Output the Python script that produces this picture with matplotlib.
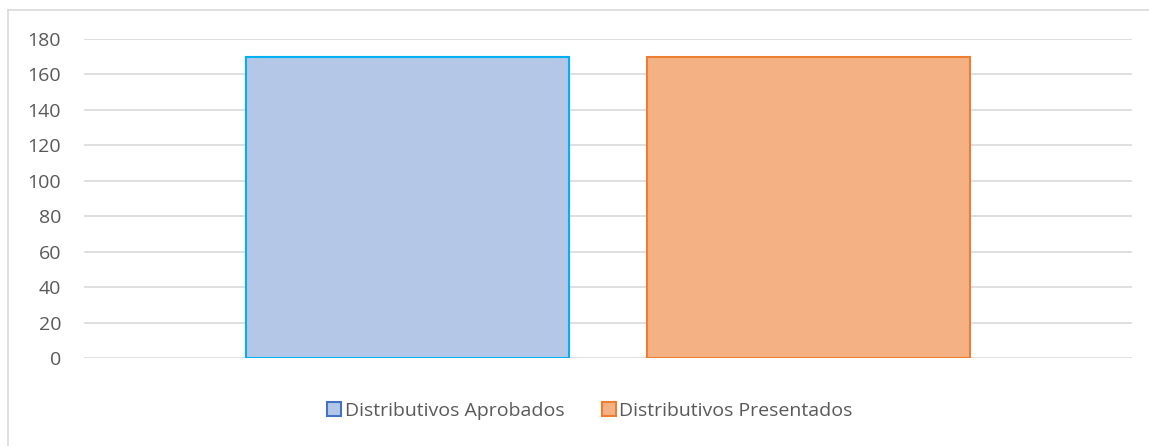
import matplotlib.pyplot as plt
from matplotlib.patches import Patch
from matplotlib.lines import Line2D

series = ['Distributivos Aprobados', 'Distributivos Presentados']
values = [170, 170]
face_colors = ['#B4C7E7', '#F4B183']
edge_colors = ['#00B0F0', '#ED7D31']
legend_edges = ['#4472C4', '#ED7D31']
yticks = [0, 20, 40, 60, 80, 100, 120, 140, 160, 180]

plt.rcParams['font.family'] = ['Open Sans', 'DejaVu Sans']

fig = plt.figure(figsize=(11.49, 4.46), dpi=100)
W, H = 1149, 446
ax = fig.add_axes([84 / W, 1 - 358 / H, (1132 - 84) / W, (358 - 39) / H])

offsets = [-0.191, 0.191]
for off, v, fc, ec in zip(offsets, values, face_colors, edge_colors):
    ax.bar(off, v, width=0.308, color=fc, edgecolor=ec, linewidth=1.5, zorder=3)

ax.set_xlim(-0.5, 0.5)
ax.set_ylim(0, 180)
ax.set_yticks(yticks)
ax.set_xticks([])
ax.grid(axis='y', color='#D9D9D9', linewidth=1.2, zorder=0)
for s in ax.spines.values():
    s.set_visible(False)
ax.tick_params(axis='y', length=0, pad=16.5, labelsize=14, labelcolor='#595959')

# outer chart border (top and left visible)
fig.add_artist(Line2D([8 / W, 1], [1 - 10 / H, 1 - 10 / H], color='#D9D9D9', linewidth=1.2))
fig.add_artist(Line2D([8 / W, 8 / W], [0, 1 - 10 / H], color='#D9D9D9', linewidth=1.2))

handles = [Patch(facecolor=fc, edgecolor=ec, linewidth=1.5) for fc, ec in zip(face_colors, legend_edges)]
fig.legend(handles, series, loc='center', bbox_to_anchor=(590 / W, 1 - 411 / H), ncol=2,
           frameon=False, fontsize=14, labelcolor='#595959', handlelength=0.72,
           handleheight=0.72, handletextpad=0.2, columnspacing=1.9)

fig.savefig('out.png', dpi=100)
